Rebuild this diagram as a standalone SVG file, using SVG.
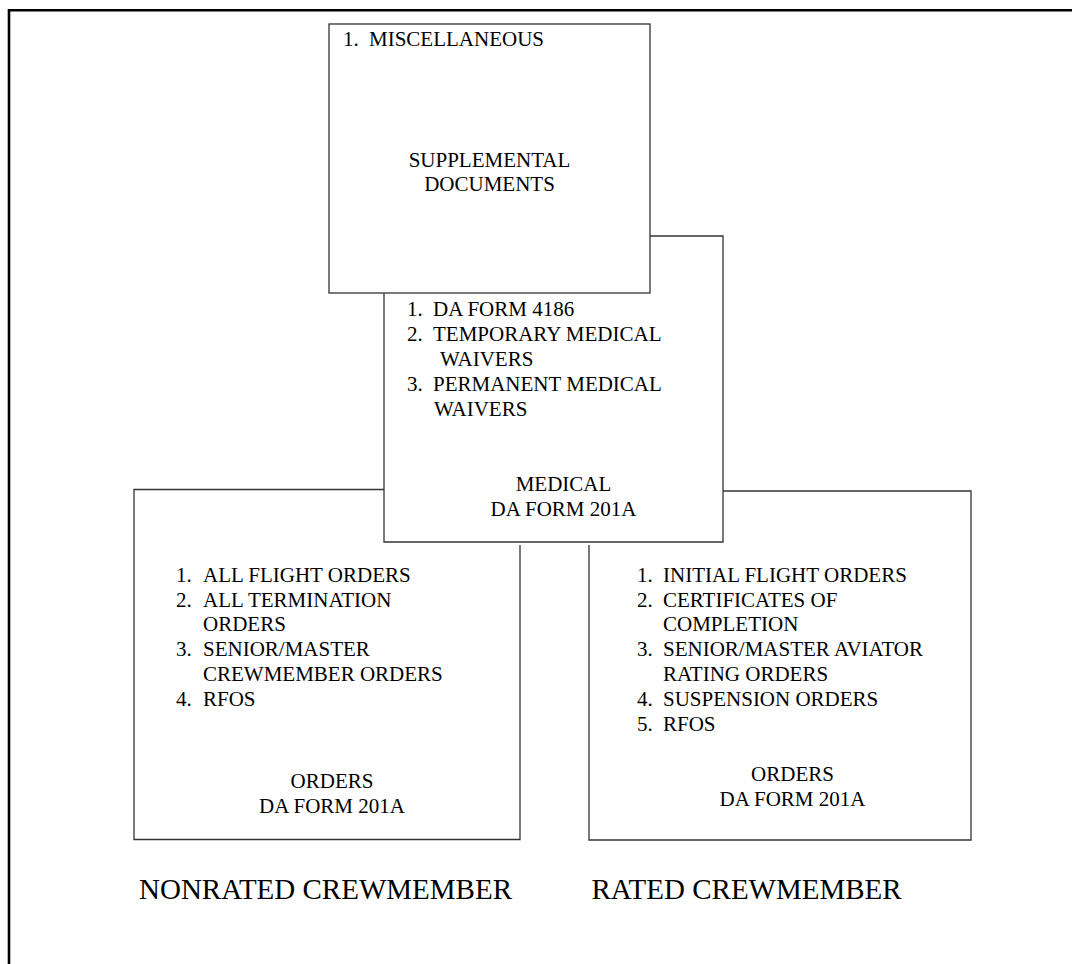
<svg xmlns="http://www.w3.org/2000/svg" width="1072" height="964" viewBox="0 0 1072 964">
<style>
.box{fill:#fff;stroke:#333;stroke-width:1.3}
.open{fill:none;stroke:#333;stroke-width:1.3}
.frame{fill:none;stroke:#000;stroke-width:2.6}
.t,.c,.lbl{font-family:"Liberation Serif","Times New Roman",Times,serif;fill:#000}
.t{font-size:21px}
.c{font-size:21px;text-anchor:middle}
.lbl{font-size:29px}
</style>
<rect width="1072" height="964" fill="#fff"/>
<g id="frame">
<path class="frame" d="M9,964 V10.3 H1072"/>
</g>
<g id="connectors"></g>
<g id="orders-nonrated">
<path class="open" d="M384,489.5 H134 V839.5 H520 V545"/>
<text class="t" x="176" y="582">1.</text><text class="t" x="203" y="582">ALL FLIGHT ORDERS</text>
<text class="t" x="176" y="607">2.</text><text class="t" x="203" y="607">ALL TERMINATION</text>
<text class="t" x="203" y="631">ORDERS</text>
<text class="t" x="176" y="656">3.</text><text class="t" x="203" y="656">SENIOR/MASTER</text>
<text class="t" x="203" y="681">CREWMEMBER ORDERS</text>
<text class="t" x="176" y="706">4.</text><text class="t" x="203" y="706">RFOS</text>
<text class="c" x="332" y="788">ORDERS</text>
<text class="c" x="332" y="813">DA FORM 201A</text>
</g>
<g id="orders-rated">
<path class="open" d="M723,491 H971 V840 H589 V545"/>
<text class="t" x="637" y="582">1.</text><text class="t" x="663" y="582">INITIAL FLIGHT ORDERS</text>
<text class="t" x="637" y="607">2.</text><text class="t" x="663" y="607">CERTIFICATES OF</text>
<text class="t" x="663" y="631">COMPLETION</text>
<text class="t" x="637" y="656">3.</text><text class="t" x="663" y="656">SENIOR/MASTER AVIATOR</text>
<text class="t" x="663" y="681">RATING ORDERS</text>
<text class="t" x="637" y="706">4.</text><text class="t" x="663" y="706">SUSPENSION ORDERS</text>
<text class="t" x="637" y="731">5.</text><text class="t" x="663" y="731">RFOS</text>
<text class="c" x="792.5" y="781">ORDERS</text>
<text class="c" x="792.5" y="806">DA FORM 201A</text>
</g>
<g id="medical">
<rect x="384" y="236" width="339" height="306" fill="#fff"/>
<path class="open" d="M650,236 H723 V542 H384 V293"/>
<text class="t" x="407" y="316">1.</text><text class="t" x="433" y="316">DA FORM 4186</text>
<text class="t" x="407" y="341">2.</text><text class="t" x="433" y="341">TEMPORARY MEDICAL</text>
<text class="t" x="440" y="366">WAIVERS</text>
<text class="t" x="407" y="391">3.</text><text class="t" x="433" y="391">PERMANENT MEDICAL</text>
<text class="t" x="434" y="416">WAIVERS</text>
<text class="c" x="563.5" y="491">MEDICAL</text>
<text class="c" x="563.5" y="516">DA FORM 201A</text>
</g>
<g id="supplemental">
<rect class="box" x="329" y="24" width="321" height="269"/>
<text class="t" x="343" y="46">1.</text><text class="t" x="369" y="46">MISCELLANEOUS</text>
<text class="c" x="489.5" y="166.7">SUPPLEMENTAL</text>
<text class="c" x="489.5" y="191">DOCUMENTS</text>
</g>
<g id="label-nonrated">
<text class="lbl" x="139" y="898.5">NONRATED CREWMEMBER</text>
</g>
<g id="label-rated">
<text class="lbl" x="591.5" y="899.3">RATED CREWMEMBER</text>
</g>
</svg>
